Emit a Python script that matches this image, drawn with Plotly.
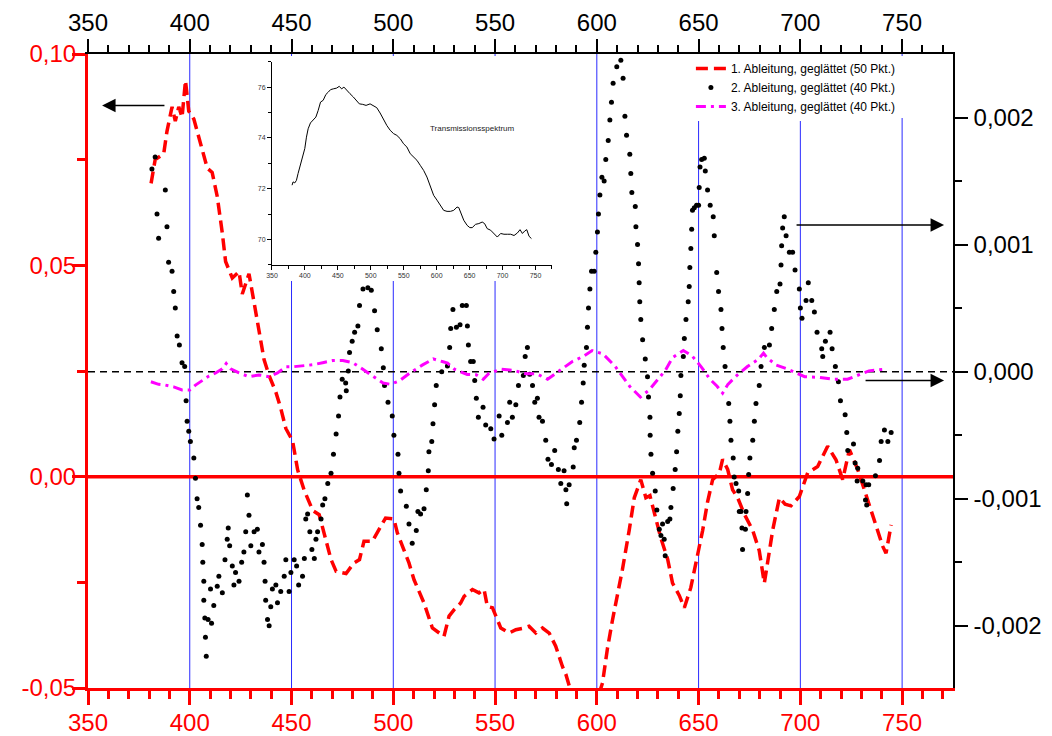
import plotly.graph_objects as go

# ---------------- data ----------------
# 1. Ableitung (left axis)
red_x = [381, 383, 387.2, 388.8, 391.3, 392.9, 394.6, 396.2, 397.9, 399.5, 402, 405.3, 408.6, 411,
         413.5, 416, 417.6, 420.9, 424.2, 425.8, 429.1, 431.6, 434, 436.5, 439, 442.3, 444.7, 447.2,
         450.5, 453, 456.2, 460.4, 463.6, 467, 469.4, 471.9, 474.9, 476.8, 480.7, 483.4, 485.6, 489.7,
         493.8, 496.2, 500.3, 502, 505.2, 507.7, 510.2, 515.1, 519.2, 522.5, 524.9, 527.4, 529.8,
         533.1, 534.8, 538.9, 542.1, 544.6, 546.2, 548.7, 552.8, 556.9, 560.2, 564.3, 566.7, 570,
         573.3, 576.6, 579.8, 583.1, 584.8, 588, 592, 596, 600, 602.8, 605.2, 607.7, 610.5, 612.6,
         615.9, 618.4, 621.6, 624.1, 626.1, 629, 631.5, 634.8, 637.2, 640.5, 643, 646.2, 648.7, 652,
         654.4, 656.9, 660.2, 661.8, 664.3, 666.7, 669.2, 672.5, 676.6, 679.8, 682.3, 683.9, 686.4,
         689.7, 692.5, 695.4, 699.5, 703.6, 708.5, 713.4, 717.5, 720.8, 724.1, 728.2, 731.5, 736.4,
         740.5, 742.1, 744.6]
red_y = [0.0694, 0.075, 0.0764, 0.0817, 0.0875, 0.0841, 0.0875, 0.0850, 0.0937, 0.0865, 0.0846,
         0.0788, 0.073, 0.072, 0.0663, 0.0576, 0.0509, 0.047, 0.0485, 0.0432, 0.048, 0.0412, 0.0345,
         0.0277, 0.0239, 0.020, 0.0162, 0.0114, 0.0085, 0.0016, -0.0032, -0.008, -0.009, -0.0148,
         -0.0196, -0.0224, -0.0228, -0.0229, -0.0204, -0.0196, -0.0153, -0.0153, -0.0118, -0.0098,
         -0.0100, -0.0133, -0.0173, -0.0204, -0.0244, -0.0299, -0.0358, -0.037, -0.0378, -0.033,
         -0.0315, -0.0299, -0.0283, -0.0267, -0.0275, -0.0267, -0.0307, -0.031, -0.0358, -0.037,
         -0.0362, -0.0358, -0.0354, -0.037, -0.0358, -0.037, -0.0401, -0.0449, -0.0468, -0.052,
         -0.056, -0.056, -0.053, -0.0488, -0.0407, -0.0339, -0.0275, -0.0219, -0.0127, -0.005,
         -0.0007, -0.005, -0.0045, -0.0098, -0.0146, -0.0195, -0.0252, -0.0281, -0.031, -0.0262,
         -0.0204, -0.0127, -0.006, -0.0007, 0.0008, 0.0041, 0.0017, -0.0031, -0.005, -0.0089,
         -0.0127, -0.0175, -0.0252, -0.0204, -0.0127, -0.005, -0.0065, -0.0069, -0.0047, 0.0009,
         0.0024, 0.0072, 0.004, -0.0007, 0.0064, 0.0017, -0.0031, -0.0102, -0.0165, -0.0181, -0.0114]

# 2. Ableitung (right axis, in units of 1e-3)
blk_x = [381.4, 383.0, 383.9, 384.7, 388.0, 388.8, 389.6, 391.3, 392.1, 392.9, 393.8, 394.9, 396.2,
         397.5, 398.2, 398.7, 399.5, 400.3, 402.0, 402.8, 403.6, 404.4, 405.3, 406.1, 406.4, 406.9,
         406.9, 407.4, 407.7, 408.1, 409.0, 410.2, 410.7, 411.8, 413.5, 414.3, 416.0, 417.3, 418.4,
         418.9, 419.6, 420.9, 421.7, 422.5, 424.2, 425.5, 426.6, 427.5, 428.3, 429.1, 430.0, 431.6,
         433.2, 434.0, 435.7, 436.5, 437.0, 437.3, 438.2, 439.0, 439.8, 440.6, 442.3, 443.1, 444.7,
         446.4, 447.2, 448.8, 449.7, 451.3, 452.5, 453.5, 455.4, 456.3, 457.0, 457.9, 459.0, 460.0,
         461.2, 462.0, 462.8, 464.5, 465.3, 466.4, 467.8, 469.4, 470.6, 471.9, 473.1, 473.8, 474.9,
         476.6, 476.9, 477.9, 478.5, 479.8, 481.0, 482.6, 483.4, 485.1, 487.5, 489.2, 490.8, 492.1,
         494.1, 495.1, 495.7, 497.4, 499.5, 500.3, 502.3, 502.8, 503.6, 506.4, 507.7, 509.3, 511.3,
         512.1, 513.4, 515.1, 516.2, 517.2, 517.5, 518.9, 519.5, 520.3, 521.1, 523.8, 526.6, 527.7,
         528.2, 529.3, 531.0, 532.8, 533.9, 535.9, 536.4, 536.9, 538.0, 539.3, 540.0, 540.8, 541.8,
         544.1, 545.4, 547.9, 549.5, 552.0, 553.3, 556.1, 557.2, 558.5, 560.2, 561.5, 563.9, 564.8,
         565.9, 567.0, 568.4, 569.5, 570.8, 571.6, 573.3, 574.9, 576.0, 577.7, 579.3, 581.1, 582.3,
         583.9, 584.8, 585.2, 586.4, 588.4, 588.9, 590.0, 591.6, 592.5, 593.3, 593.8, 594.9, 595.4,
         595.9, 596.6, 597.4, 598.7, 599.5, 600.3, 600.8, 601.5, 602.5, 603.6, 604.4, 605.6, 606.4,
         607.2, 608.0, 609.8, 611.8, 612.9, 613.8, 614.6, 616.2, 616.7, 617.2, 618.9, 619.2, 620.0,
         620.5, 620.8, 621.1, 621.6, 622.5, 623.8, 624.9, 625.4, 626.1, 626.2, 626.6, 627.4, 628.7,
         629.5, 630.7, 631.5, 632.3, 633.1, 633.6, 634.8, 635.9, 636.4, 637.5, 638.5, 639.2, 639.8,
         640.5, 641.0, 641.3, 642.5, 643.0, 643.8, 644.9, 645.4, 645.7, 646.2, 646.6, 647.0, 647.9,
         649.0, 650.0, 650.3, 650.7, 651.5, 652.8, 653.3, 654.4, 655.7, 657.2, 657.7, 658.9, 659.8,
         661.0, 661.5, 662.1, 663.0, 664.8, 665.4, 665.9, 667.0, 667.5, 668.4, 669.7, 670.0, 670.8,
         671.3, 671.6, 673.0, 673.3, 674.1, 674.6, 675.2, 676.6, 677.4, 678.2, 679.8, 680.7, 682.3,
         684.8, 685.9, 687.2, 688.4, 690.0, 690.5, 690.8, 691.3, 692.1, 693.0, 694.6, 696.2, 697.4,
         699.5, 700.0, 700.8, 702.8, 703.9, 705.6, 706.9, 708.2, 710.5, 711.0, 712.3, 714.6, 715.6,
         717.2, 718.7, 719.7, 722.0, 722.8, 723.3, 726.1, 726.9, 727.9, 728.2, 730.7, 732.0, 732.3,
         732.6, 733.6, 736.9, 738.9, 739.7, 741.3, 743.0, 744.6]
blk_y = [1.594, 1.69, 1.24, 1.05, 1.43, 1.14, 0.86, 0.79, 0.63, 0.50, 0.28, 0.21, 0.07, 0.04, -0.23,
         -0.39, -0.47, -0.55, -0.68, -0.84, -1.00, -1.07, -1.21, -1.36, -1.50, -1.65, -1.80, -1.94,
         -2.09, -2.24, -1.95, -1.71, -1.98, -1.84, -1.69, -1.61, -1.74, -1.48, -1.32, -1.23, -1.37,
         -1.53, -1.68, -1.58, -1.65, -1.50, -1.42, -1.26, -0.97, -1.13, -1.37, -1.26, -1.24, -1.42,
         -1.36, -1.50, -1.65, -1.80, -1.95, -2.00, -1.85, -1.71, -1.68, -1.82, -1.73, -1.61, -1.48,
         -1.73, -1.58, -1.48, -1.53, -1.68, -1.61, -1.47, -1.16, -1.12, -1.26, -1.40, -1.47, -1.32,
         -1.26, -1.16, -1.05, -1.00, -0.88, -0.80, -0.65, -0.49, -0.35, -0.20, -0.06, -0.09, -0.15,
         0.005, 0.15, 0.24, 0.31, 0.36, 0.52, 0.65, 0.66, 0.64, 0.48, 0.33, 0.18, 0.03, -0.11, -0.24,
         -0.35, -0.50, -0.65, -0.80, -0.94, -1.06, -1.20, -1.35, -1.25, -1.10, -1.12, -1.08, -0.93,
         -0.78, -0.63, -0.55, -0.41, -0.26, -0.11, 0.00, 0.045, 0.19, 0.34, 0.49, 0.35, 0.37, 0.52,
         0.52, 0.36, 0.21, 0.08, 0.08, -0.07, -0.21, -0.36, -0.28, -0.42, -0.45, -0.53, -0.35, -0.50,
         -0.40, -0.24, -0.36, -0.26, -0.11, -0.03, 0.12, 0.19, -0.02, -0.11, -0.24, -0.21, -0.36,
         -0.39, -0.54, -0.69, -0.73, -0.62, -0.77, -0.88, -0.78, -0.93, -1.04, -0.89, -0.75, -0.60,
         -0.54, -0.40, -0.24, -0.09, 0.05, 0.19, 0.35, 0.50, 0.65, 0.79, 0.79, 0.94, 1.10, 1.24, 1.39,
         1.53, 1.50, 1.67, 1.82, 1.98, 2.12, 2.27, 2.40, 2.45, 2.31, 2.01, 1.86, 1.71, 1.56, 1.41,
         1.30, 1.14, 1.00, 0.85, 0.70, 0.55, 0.41, 0.25, 0.10, -0.04, -0.20, -0.36, -0.50, -0.65,
         -0.80, -0.94, -1.09, -1.24, -1.29, -1.20, -1.32, -1.45, -1.18, -1.16, -1.07, -0.92, -0.77,
         -0.63, -0.47, -0.33, -0.19, -0.03, 0.12, 0.26, 0.41, 0.55, 0.67, 0.82, 0.97, 1.12, 1.27,
         1.29, 1.31, 1.31, 1.45, 1.61, 1.67, 1.68, 1.58, 1.43, 1.31, 1.22, 1.07, 0.78, 0.63, 0.49,
         0.34, 0.19, 0.04, -0.25, -0.39, -0.54, -0.68, -0.83, -0.88, -0.94, -1.10, -1.10, -1.23,
         -1.40, -1.24, -1.10, -0.96, -0.81, -0.68, -0.54, -0.39, -0.25, -0.11, 0.04, 0.19, 0.21, 0.34,
         0.49, 0.63, 0.69, 0.84, 0.99, 1.13, 1.22, 1.07, 0.94, 0.94, 0.80, 0.65, 0.50, 0.42, 0.56,
         0.70, 0.56, 0.47, 0.31, 0.18, 0.12, 0.24, 0.31, 0.18, 0.04, -0.08, -0.23, -0.34, -0.48,
         -0.62, -0.57, -0.72, -0.86, -0.76, -0.86, -1.01, -0.89, -1.05, -0.89, -0.82, -0.70, -0.55,
         -0.46, -0.55, -0.48]

# 3. Ableitung (right axis, in units of 1e-3)
mag_x = [380.9, 384.7, 388, 392.1, 396.2, 400, 402.8, 406.1, 409.4, 412.7, 416, 417.9, 420.1, 424.2,
         429.1, 434, 439, 443.1, 447.2, 450.5, 455.4, 460.4, 465.3, 470.2, 475.2, 480.1, 484, 488,
         491.3, 495, 498.6, 503, 508.2, 514.4, 519.6, 524, 526.7, 530.2, 536.3, 540.7, 544.2, 546.8,
         553, 559.1, 565.3, 570.5, 575.8, 581, 588, 593.3, 597.7, 603, 609.1, 616.1, 621.4, 625.8,
         629.3, 633.7, 637.2, 642.5, 646.8, 651.2, 655.6, 659.1, 661.8, 664.4, 668.8, 674, 679.3,
         681.9, 683.6, 688, 694.2, 702.1, 709.1, 716.1, 723.2, 728.4, 733.7, 740.7]
mag_y = [-0.08, -0.10, -0.106, -0.12, -0.144, -0.144, -0.106, -0.067, -0.035, -0.01, 0.022, 0.064,
         0.022, -0.01, -0.04, -0.026, -0.04, -0.01, 0.038, 0.038, 0.045, 0.054, 0.07, 0.087, 0.087,
         0.07, 0.03, -0.01, -0.05, -0.09, -0.1, -0.073, -0.01, 0.053, 0.1, 0.08, 0.067, 0.017,
         -0.022, -0.025, -0.06, -0.017, 0.02, 0.01, -0.017, -0.017, -0.06, 0.0, 0.08, 0.12, 0.166,
         0.14, 0.04, -0.115, -0.2, -0.143, -0.073, 0.011, 0.11, 0.166, 0.124, 0.04, -0.06, -0.115,
         -0.17, -0.1, -0.03, 0.04, 0.096, 0.146, 0.11, 0.053, 0.017, -0.04, -0.045, -0.06, -0.06,
         -0.03, 0.006, 0.017]

RIGHT_UNIT = 1e-3

# Transmissionsspektrum (inset)
tr_x = [380.5, 382, 384.6, 387.1, 389.6, 392.2, 396.2, 399.8, 402.3, 404.9, 408.4, 412.5, 416.6,
        420.1, 423.7, 427.7, 431.8, 435.4, 438.9, 443, 448.1, 452.1, 455.7, 459.2, 463.3, 468.4,
        473.5, 478.6, 482.6, 487.7, 492.8, 498.9, 504, 509, 514.1, 519.2, 524.3, 529.4, 534.5, 539.5,
        544.6, 549.7, 554.8, 559.8, 564.9, 570, 575.1, 580.2, 585.2, 590.3, 595.4, 600.5, 605.5,
        610.6, 615.7, 620.8, 625.8, 630.9, 633.5, 637, 641.1, 646.2, 650.3, 653.9, 659, 664, 669.1,
        672.7, 676.7, 681.8, 686.9, 692, 697.1, 702.1, 707.2, 712.3, 717.4, 722.5, 726.5, 730.1,
        733.7, 736.7, 740.2, 743.8]
tr_y = [72.14, 72.27, 72.23, 72.33, 72.6, 72.86, 73.25, 73.58, 74.03, 74.36, 74.59, 74.69, 74.82,
        75.08, 75.41, 75.48, 75.71, 75.8, 75.9, 75.93, 75.96, 76.03, 75.93, 76.0, 75.87, 75.74,
        75.61, 75.48, 75.34, 75.32, 75.28, 75.34, 75.25, 75.19, 74.98, 74.73, 74.49, 74.3, 74.17,
        74.1, 73.97, 73.77, 73.64, 73.38, 73.25, 73.12, 72.92, 72.72, 72.46, 72.07, 71.74, 71.55,
        71.35, 71.15, 71.11, 71.11, 71.15, 71.28, 71.26, 71.02, 70.76, 70.56, 70.47, 70.47, 70.6,
        70.63, 70.69, 70.63, 70.43, 70.37, 70.24, 70.1, 70.24, 70.21, 70.21, 70.21, 70.16, 70.26,
        70.39, 70.24, 70.34, 70.39, 70.13, 70.04]

series_names = ["1. Ableitung, geglättet (50 Pkt.)",
                "2. Ableitung, geglättet (40 Pkt.)",
                "3. Ableitung, geglättet (40 Pkt.)"]

grid_x = [400, 450, 500, 550, 600, 650, 700, 750]
left_tickvals = [-0.05, 0.0, 0.05, 0.10]
left_ticktext = ["-0,05", "0,00", "0,05", "0,10"]
left_minor = [-0.025, 0.025, 0.075]
right_tickvals = [-0.002, -0.001, 0.0, 0.001, 0.002]
right_ticktext = ["-0,002", "-0,001", "0,000", "0,001", "0,002"]
right_minor = [-0.0015, -0.0005, 0.0005, 0.0015]
inset_label = "Transmissionsspektrum"

# ---------------- figure ----------------
FONT = "Liberation Sans, Arial, sans-serif"
fig = go.Figure()

fig.add_trace(go.Scatter(x=red_x, y=red_y, mode="lines", name=series_names[0],
                         line=dict(color="#ff0000", width=3.5, dash="12px,6px"),
                         xaxis="x", yaxis="y"))
fig.add_trace(go.Scatter(x=blk_x, y=[v * RIGHT_UNIT for v in blk_y], mode="markers",
                         name=series_names[1],
                         marker=dict(color="black", size=5, line=dict(width=0)),
                         xaxis="x2", yaxis="y2"))
fig.add_trace(go.Scatter(x=mag_x, y=[v * RIGHT_UNIT for v in mag_y], mode="lines",
                         name=series_names[2],
                         line=dict(color="#ff00ff", width=3, dash="10px,5px,3px,5px"),
                         xaxis="x2", yaxis="y2"))
fig.add_trace(go.Scatter(x=tr_x, y=tr_y, mode="lines", showlegend=False,
                         line=dict(color="black", width=1), xaxis="x3", yaxis="y3"))

shapes = []
for g in grid_x:
    shapes.append(dict(type="line", xref="x", yref="paper", x0=g, x1=g, y0=0, y1=1,
                       line=dict(color="#2a2aff", width=1), layer="below"))
# white background of the inset (hides the grid lines behind it)
shapes.append(dict(type="rect", xref="paper", yref="paper", x0=0.1815, x1=0.5457,
                   y0=0.642, y1=0.997, fillcolor="white", line=dict(width=0), layer="below"))
# white background of the legend block
shapes.append(dict(type="rect", xref="paper", yref="paper", x0=0.6936, x1=0.995,
                   y0=0.899, y1=0.997, fillcolor="white", line=dict(width=0), layer="below"))
shapes.append(dict(type="line", xref="paper", yref="y", x0=0, x1=1, y0=0, y1=0,
                   line=dict(color="#ff0000", width=3.5), layer="below"))
shapes.append(dict(type="line", xref="paper", yref="y2", x0=0, x1=1, y0=0, y1=0,
                   line=dict(color="black", width=1.5, dash="7px,5px"), layer="below"))

annotations = [
    dict(x=356.9, y=0.0878, xref="x", yref="y", ax=388.3, ay=0.0878, axref="x", ayref="y",
         text="", showarrow=True, arrowhead=2, arrowsize=1.8, arrowwidth=1.5, arrowcolor="black"),
    dict(x=770.6, y=0.001155, xref="x2", yref="y2", ax=697.4, ay=0.001155, axref="x2", ayref="y2",
         text="", showarrow=True, arrowhead=2, arrowsize=1.8, arrowwidth=1.5, arrowcolor="black"),
    dict(x=770.6, y=-0.00007, xref="x2", yref="y2", ax=731.3, ay=-0.00007, axref="x2", ayref="y2",
         text="", showarrow=True, arrowhead=2, arrowsize=1.8, arrowwidth=1.5, arrowcolor="black"),
    dict(x=655, y=74.36, xref="x3", yref="y3", text=inset_label, showarrow=False,
         font=dict(size=8, color="#222222", family=FONT)),
]

# the page body has an 8px margin, so the figure is sized to fit the 1052x736 window
fig.update_layout(
    width=1044, height=728, autosize=False,
    margin=dict(l=80, r=99, t=46, b=48, pad=0, autoexpand=False),
    paper_bgcolor="white", plot_bgcolor="rgba(0,0,0,0)",
    font=dict(family=FONT, size=24, color="black"),
    showlegend=True,
    legend=dict(x=0.697, y=1.0, xanchor="left", yanchor="top", bgcolor="white",
                borderwidth=0, font=dict(size=12, color="black", family=FONT),
                tracegroupgap=0),
    shapes=shapes, annotations=annotations,
    xaxis=dict(range=[350, 775], domain=[0, 1], anchor="y", side="bottom", automargin=False,
               tickmode="linear", tick0=350, dtick=50,
               showline=True, linecolor="#ff0000", linewidth=3,
               ticks="outside", ticklen=14, tickwidth=3, tickcolor="#ff0000",
               minor=dict(tickmode="linear", tick0=350, dtick=10, ticks="outside",
                          ticklen=8, tickwidth=3, tickcolor="#ff0000"),
               tickfont=dict(size=24, color="#ff0000"), ticklabelstandoff=-3,
               showgrid=False, zeroline=False),
    xaxis2=dict(range=[350, 775], overlaying="x", anchor="y2", side="top", automargin=False,
                tickmode="linear", tick0=350, dtick=50,
                showline=True, linecolor="black", linewidth=1.5,
                ticks="outside", ticklen=13, tickwidth=1.5, tickcolor="black",
                minor=dict(tickmode="linear", tick0=350, dtick=10, ticks="outside",
                           ticklen=7, tickwidth=1.5, tickcolor="black"),
                tickfont=dict(size=24, color="black"), ticklabelstandoff=-1,
                showgrid=False, zeroline=False),
    yaxis=dict(range=[-0.05, 0.1], domain=[0, 1], anchor="x", side="left", automargin=False,
               tickmode="array", tickvals=left_tickvals, ticktext=left_ticktext,
               showline=True, linecolor="#ff0000", linewidth=3,
               ticks="outside", ticklen=13, tickwidth=3, tickcolor="#ff0000",
               minor=dict(tickmode="array", tickvals=left_minor, ticks="outside",
                          ticklen=8, tickwidth=3, tickcolor="#ff0000"),
               tickfont=dict(size=24, color="#ff0000"), ticklabelstandoff=-9,
               showgrid=False, zeroline=False),
    yaxis2=dict(range=[-0.00249, 0.0025], overlaying="y", anchor="x2", side="right",
                automargin=False,
                tickmode="array", tickvals=right_tickvals, ticktext=right_ticktext,
                showline=True, linecolor="black", linewidth=1.5,
                ticks="outside", ticklen=13, tickwidth=1.5, tickcolor="black",
                minor=dict(tickmode="array", tickvals=right_minor, ticks="outside",
                           ticklen=7, tickwidth=1.5, tickcolor="black"),
                tickfont=dict(size=24, color="black"), ticklabelstandoff=1,
                showgrid=False, zeroline=False),
    xaxis3=dict(domain=[0.2127, 0.5364], anchor="y3", range=[350, 775], automargin=False,
                tickmode="linear", tick0=350, dtick=50,
                showline=True, linecolor="black", linewidth=1,
                ticks="outside", ticklen=4, tickwidth=1, tickcolor="black",
                minor=dict(tickmode="linear", tick0=350, dtick=25, ticks="outside",
                           ticklen=3, tickwidth=1, tickcolor="black"),
                tickfont=dict(size=7, color="#333333"),
                showgrid=False, zeroline=False),
    yaxis3=dict(domain=[0.6672, 0.9879], anchor="x3", range=[69, 77], automargin=False,
                tickmode="linear", tick0=70, dtick=2,
                showline=True, linecolor="black", linewidth=1,
                ticks="outside", ticklen=4, tickwidth=1, tickcolor="black",
                minor=dict(tickmode="linear", tick0=69, dtick=1, ticks="outside",
                           ticklen=3, tickwidth=1, tickcolor="black"),
                tickfont=dict(size=7, color="#333333"),
                showgrid=False, zeroline=False),
)

fig.write_html("out.html")
